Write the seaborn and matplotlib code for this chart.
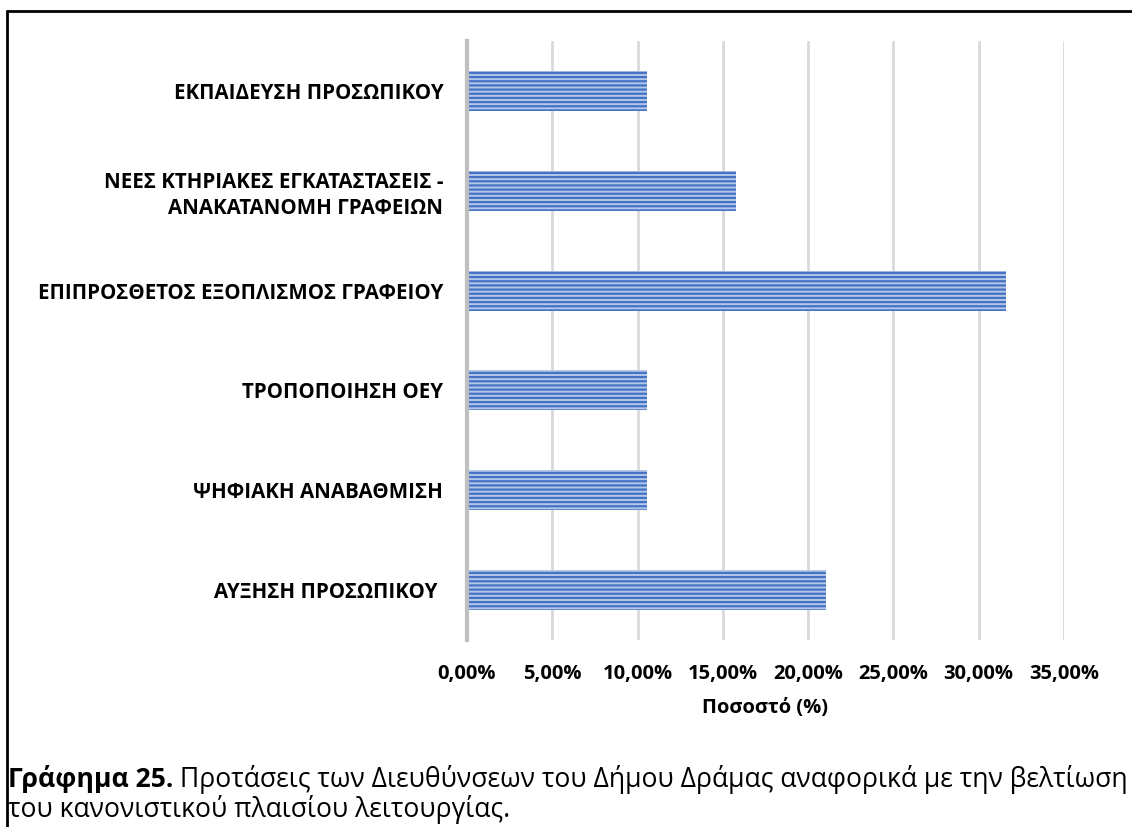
import matplotlib
matplotlib.use("Agg")
import matplotlib.pyplot as plt
import seaborn as sns
import pandas as pd
from matplotlib.ticker import FuncFormatter
from matplotlib.lines import Line2D

categories = [
    "ΕΚΠΑΙΔΕΥΣΗ ΠΡΟΣΩΠΙΚΟΥ",
    "ΝΕΕΣ ΚΤΗΡΙΑΚΕΣ ΕΓΚΑΤΑΣΤΑΣΕΙΣ -\nΑΝΑΚΑΤΑΝΟΜΗ ΓΡΑΦΕΙΩΝ",
    "ΕΠΙΠΡΟΣΘΕΤΟΣ ΕΞΟΠΛΙΣΜΟΣ ΓΡΑΦΕΙΟΥ",
    "ΤΡΟΠΟΠΟΙΗΣΗ ΟΕΥ",
    "ΨΗΦΙΑΚΗ ΑΝΑΒΑΘΜΙΣΗ",
    "ΑΥΞΗΣΗ ΠΡΟΣΩΠΙΚΟΥ ",
]
values = [0.1053, 0.1579, 0.3158, 0.1053, 0.1053, 0.2105]
xticks = [0.0, 0.05, 0.10, 0.15, 0.20, 0.25, 0.30, 0.35]
xlabel = "Ποσοστό (%)"
caption_bold = "Γράφημα 25."
caption_rest = " Προτάσεις των Διευθύνσεων του Δήμου Δράμας αναφορικά με την βελτίωση"
caption_line2 = "του κανονιστικού πλαισίου λειτουργίας."

sns.set_theme(style="white")
plt.rcParams["font.family"] = ["Open Sans", "DejaVu Sans"]
plt.rcParams["hatch.color"] = "#4472c4"
plt.rcParams["hatch.linewidth"] = 1.6
plt.rcParams["text.color"] = "black"

df = pd.DataFrame({"cat": categories, "val": values})

fig = plt.figure(figsize=(11.32, 8.27), dpi=100)
ax = fig.add_axes([0.4125, 0.2261, 0.5274, 0.7243])

sns.barplot(data=df, x="val", y="cat", ax=ax, orient="h", width=0.4,
            color="#b4c7e7", saturation=1, edgecolor="#4472c4", linewidth=0,
            hatch="----", zorder=3)

ax.set_xlim(0, 0.35)
ax.set_ylim(5.5, -0.5)
ax.set_xticks(xticks)
ax.xaxis.set_major_formatter(FuncFormatter(lambda v, p: f"{v*100:.2f}%".replace(".", ",")))
ax.grid(axis="x", color="#d9d9d9", linewidth=2, zorder=0)
ax.grid(axis="y", visible=False)
for s in ["top", "right", "bottom"]:
    ax.spines[s].set_visible(False)
ax.spines["left"].set_color("#bfbfbf")
ax.spines["left"].set_linewidth(3)
ax.spines["left"].set_zorder(4)
ax.tick_params(axis="both", length=0)
ax.tick_params(axis="x", pad=17, labelsize=14.5)
ax.tick_params(axis="y", pad=17, labelsize=14.8)
for t in ax.get_xticklabels() + ax.get_yticklabels():
    t.set_fontweight("bold")
    t.set_color("#000000")
    t.set_linespacing(1.3)
ax.set_ylabel("")
ax.set_xlabel(xlabel, fontsize=14.5, fontweight="bold", labelpad=10, color="#000000")

# caption
cap_fs = 19.1
t1 = fig.text(8/1132, 1-779/827, caption_bold, fontsize=cap_fs, fontweight="bold", va="center", ha="left", color="black")
fig.canvas.draw()
bb = t1.get_window_extent()
x2 = bb.x1 / fig.bbox.width
fig.text(x2, 1-779/827, caption_rest, fontsize=cap_fs, va="center", ha="left", color="black")
fig.text(8/1132, 1-810/827, caption_line2, fontsize=cap_fs, va="center", ha="left", color="black")

# frame lines (top and left)
fig.add_artist(Line2D([7/1132, 1.0], [1-11/827, 1-11/827], color="black", linewidth=2, transform=fig.transFigure))
fig.add_artist(Line2D([7/1132, 7/1132], [0, 1-11/827], color="black", linewidth=2, transform=fig.transFigure))

fig.savefig("out.png", dpi=100)
